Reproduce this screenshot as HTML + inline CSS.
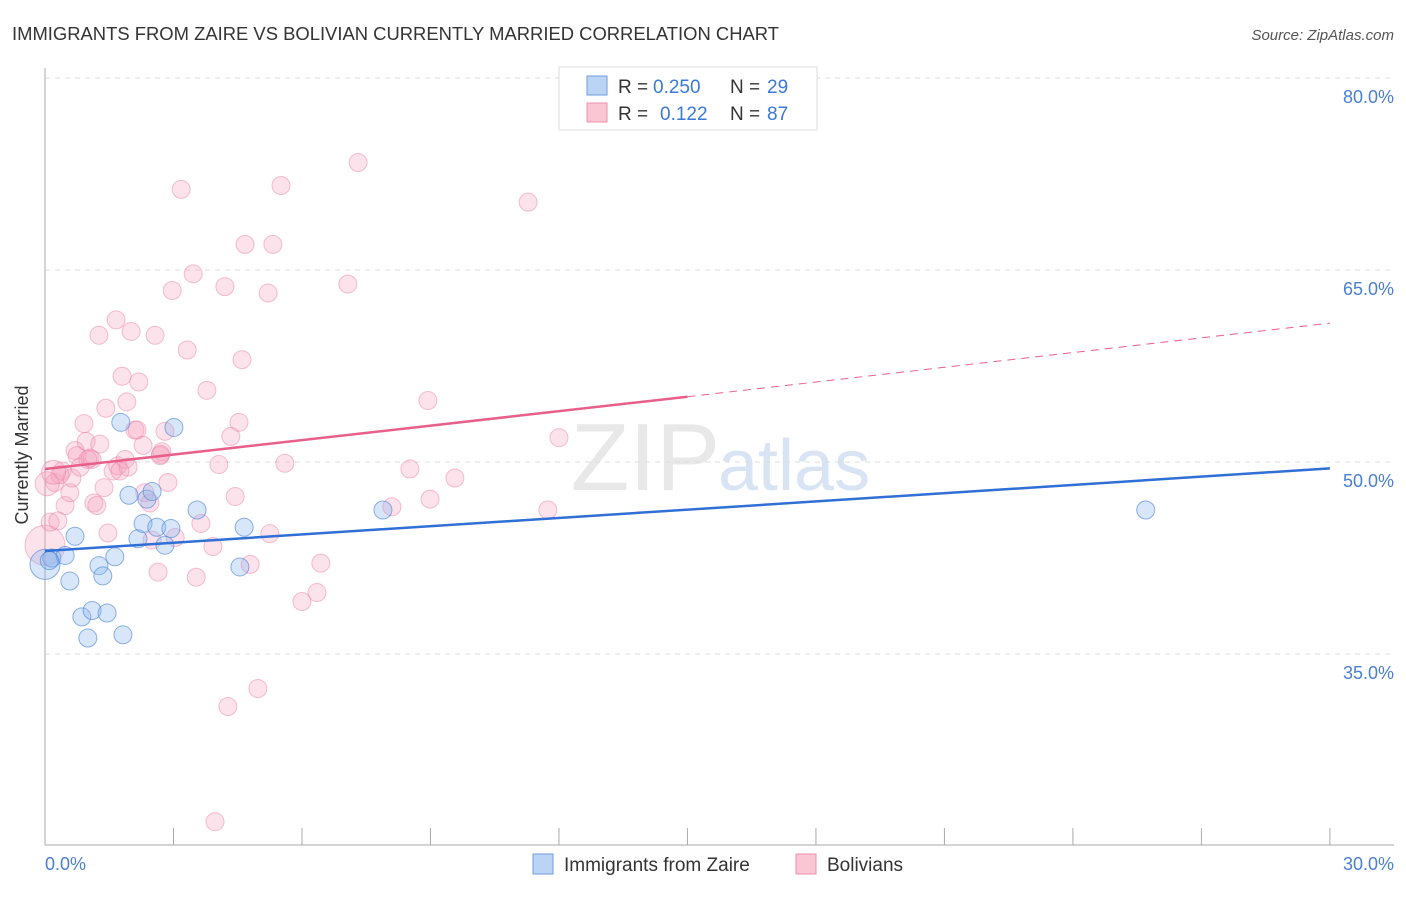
<!DOCTYPE html>
<html><head><meta charset="utf-8"><style>
body{margin:0;background:#fff;font-family:"Liberation Sans",sans-serif}
svg text{font-family:"Liberation Sans",sans-serif}
</style></head><body>
<svg id="c" width="1406" height="892" xmlns="http://www.w3.org/2000/svg">
<text x="12" y="40" font-size="18" fill="#333" textLength="767" lengthAdjust="spacingAndGlyphs">IMMIGRANTS FROM ZAIRE VS BOLIVIAN CURRENTLY MARRIED CORRELATION CHART</text>
<text x="1394" y="40" font-size="15" fill="#555" font-style="italic" text-anchor="end">Source: ZipAtlas.com</text>
<text x="720" y="490" font-size="96" fill="#e8e8e8" text-anchor="end" font-family="Liberation Serif">ZIP</text>
<text x="718" y="490" font-size="72" fill="#d8e4f3">atlas</text>
<g id="grid"></g><g id="axes"></g><g id="pts"></g><g id="trend"></g>
<text x="28" y="455" font-size="18" fill="#333" transform="rotate(-90 28 455)" text-anchor="middle">Currently Married</text>
<text x="45" y="870" font-size="18" fill="#4a7fd4">0.0%</text>
<text x="1394" y="870" font-size="18" fill="#4a7fd4" text-anchor="end">30.0%</text>
<g>
<rect x="559" y="67" width="258" height="63" fill="#fff" stroke="#ddd"/>
<rect x="587" y="76" width="20" height="19" fill="#bcd4f4" stroke="#6b9ee0"/>
<text x="618" y="93" font-size="19" fill="#333">R =</text>
<text x="653" y="93" font-size="19" fill="#3b78d8">0.250</text>
<text x="730" y="93" font-size="19" fill="#333">N =</text>
<text x="767" y="93" font-size="19" fill="#3b78d8">29</text>
<rect x="587" y="103" width="20" height="19" fill="#f9c6d4" stroke="#ee8fab"/>
<text x="618" y="120" font-size="19" fill="#333">R =</text>
<text x="660" y="120" font-size="19" fill="#3b78d8">0.122</text>
<text x="730" y="120" font-size="19" fill="#333">N =</text>
<text x="767" y="120" font-size="19" fill="#3b78d8">87</text>
</g>
<g>
<rect x="533" y="854" width="20" height="20" fill="#bcd4f4" stroke="#6b9ee0"/>
<text x="564" y="871" font-size="19" fill="#333">Immigrants from Zaire</text>
<rect x="796" y="854" width="20" height="20" fill="#f9c6d4" stroke="#ee8fab"/>
<text x="827" y="871" font-size="19" fill="#333">Bolivians</text>
</g>
</svg>
<script>
const yTicks=[80,65,50,35];
const blueX=[0,0.16,0.47,0.70,0.58,0.86,1.0,1.1,1.26,1.35,1.45,1.63,1.82,1.77,1.96,2.17,2.29,2.38,2.5,2.61,2.8,2.94,3.01,3.55,4.55,4.65,7.89,25.7,0.1];
const blueY=[42.0,42.5,42.7,44.2,40.7,37.9,36.25,38.4,41.9,41.1,38.2,42.6,36.5,53.1,47.4,44.0,45.2,47.1,47.7,44.9,43.5,44.8,52.7,46.25,41.8,44.9,46.25,46.25,42.3];
const pinkX=[0,.12,.23,.30,.40,.47,.58,.63,.70,.75,.82,.91,.96,1.05,1.10,1.14,1.21,1.26,1.28,1.38,1.42,1.47,1.59,1.66,1.70,1.80,1.87,1.91,1.94,2.01,2.10,2.15,2.19,2.29,2.33,2.45,2.50,2.57,2.64,2.69,2.73,2.80,2.87,2.97,3.04,3.18,3.32,3.46,3.53,3.64,3.78,3.92,3.97,4.06,4.20,4.27,4.34,4.44,4.53,4.60,4.67,4.79,4.97,5.21,5.25,5.32,5.51,5.60,6.0,6.35,6.44,7.07,7.31,8.1,8.52,8.94,8.99,9.57,11.28,11.74,12.0,0.35,1.0,1.75,2.7,0.05,0.2];
const pinkY=[43.5,45.3,48.4,45.4,49.3,46.6,47.6,48.75,50.9,50.5,49.6,53.0,51.6,50.3,50.2,46.8,46.6,59.9,51.4,48.0,54.2,44.45,49.3,61.1,49.7,56.7,50.2,54.7,49.6,60.2,52.5,52.5,56.25,51.3,47.6,46.8,43.9,59.9,41.4,50.5,50.8,52.4,48.4,63.4,44.1,71.3,58.75,64.7,41.0,45.2,55.6,43.4,21.9,49.8,63.7,30.9,52.0,47.3,53.1,58.0,67.0,42.0,32.3,63.2,44.4,67.0,71.6,49.9,39.1,39.8,42.1,63.9,73.4,46.5,49.45,54.8,47.1,48.75,70.3,46.25,51.9,49.0,50.2,49.3,50.6,48.3,49.2];
const blueTrend=[[0,43.05],[30,49.5]];
const pinkTrendSolid=[[0,49.45],[15,55.1]];
const pinkTrendDash=[[15,55.1],[30,60.85]];
const NS='http://www.w3.org/2000/svg';
const X=v=>45+v*42.83, Y=v=>78+(80-v)*12.8;
function mk(p,t,a){const e=document.createElementNS(NS,t);for(const k in a)e.setAttribute(k,a[k]);document.getElementById(p).appendChild(e);return e;}
yTicks.forEach(t=>{
 const l=mk('grid','line',{x1:45,x2:1394,y1:Y(t),y2:Y(t),stroke:'#ddd','stroke-dasharray':'5,5'});
 
 
 const tx=mk('grid','text',{x:1394,y:Y(t)+25,'font-size':18,fill:'#4a7fd4','text-anchor':'end'});
 tx.textContent=t.toFixed(1)+'%';
 
 
});
const ya=mk('axes','line',{x1:45,x2:45,y1:68,y2:845,stroke:'#aaa'});


const xa=mk('axes','line',{x1:45,x2:1394,y1:845,y2:845,stroke:'#aaa'});


for(let i=0;i<=10;i++){const t=mk('axes','line',{x1:X(i*3),x2:X(i*3),y1:828,y2:845,stroke:'#aaa'});
 
 }
pinkX.forEach((x,i)=>{const r=(i===0)?20:(i>=85?12:9);const c=mk('pts','circle',{cx:X(x),cy:Y(pinkY[i]),r:r,fill:'rgba(244,160,188,0.3)',stroke:'rgba(236,130,168,0.5)'});
 
 });
blueX.forEach((x,i)=>{const r=(i===0)?15:9;const c=mk('pts','circle',{cx:X(x),cy:Y(blueY[i]),r:r,fill:'rgba(140,182,238,0.35)',stroke:'rgba(70,128,218,0.6)'});
 
 });
function ln(d,col,dash,name){const l=mk('trend','line',{x1:X(d[0][0]),y1:Y(d[0][1]),x2:X(d[1][0]),y2:Y(d[1][1]),stroke:col,'stroke-width':dash?1:2.5});
 if(dash)l.setAttribute('stroke-dasharray','8,6');
 
 }
ln(blueTrend,'#2f6fd6',false,'trend-zaire');
ln(pinkTrendSolid,'#e8608a',false,'trend-bolivians');
ln(pinkTrendDash,'#e8608a',true,'trend-bolivians-extrapolated');
</script>
</body></html>
